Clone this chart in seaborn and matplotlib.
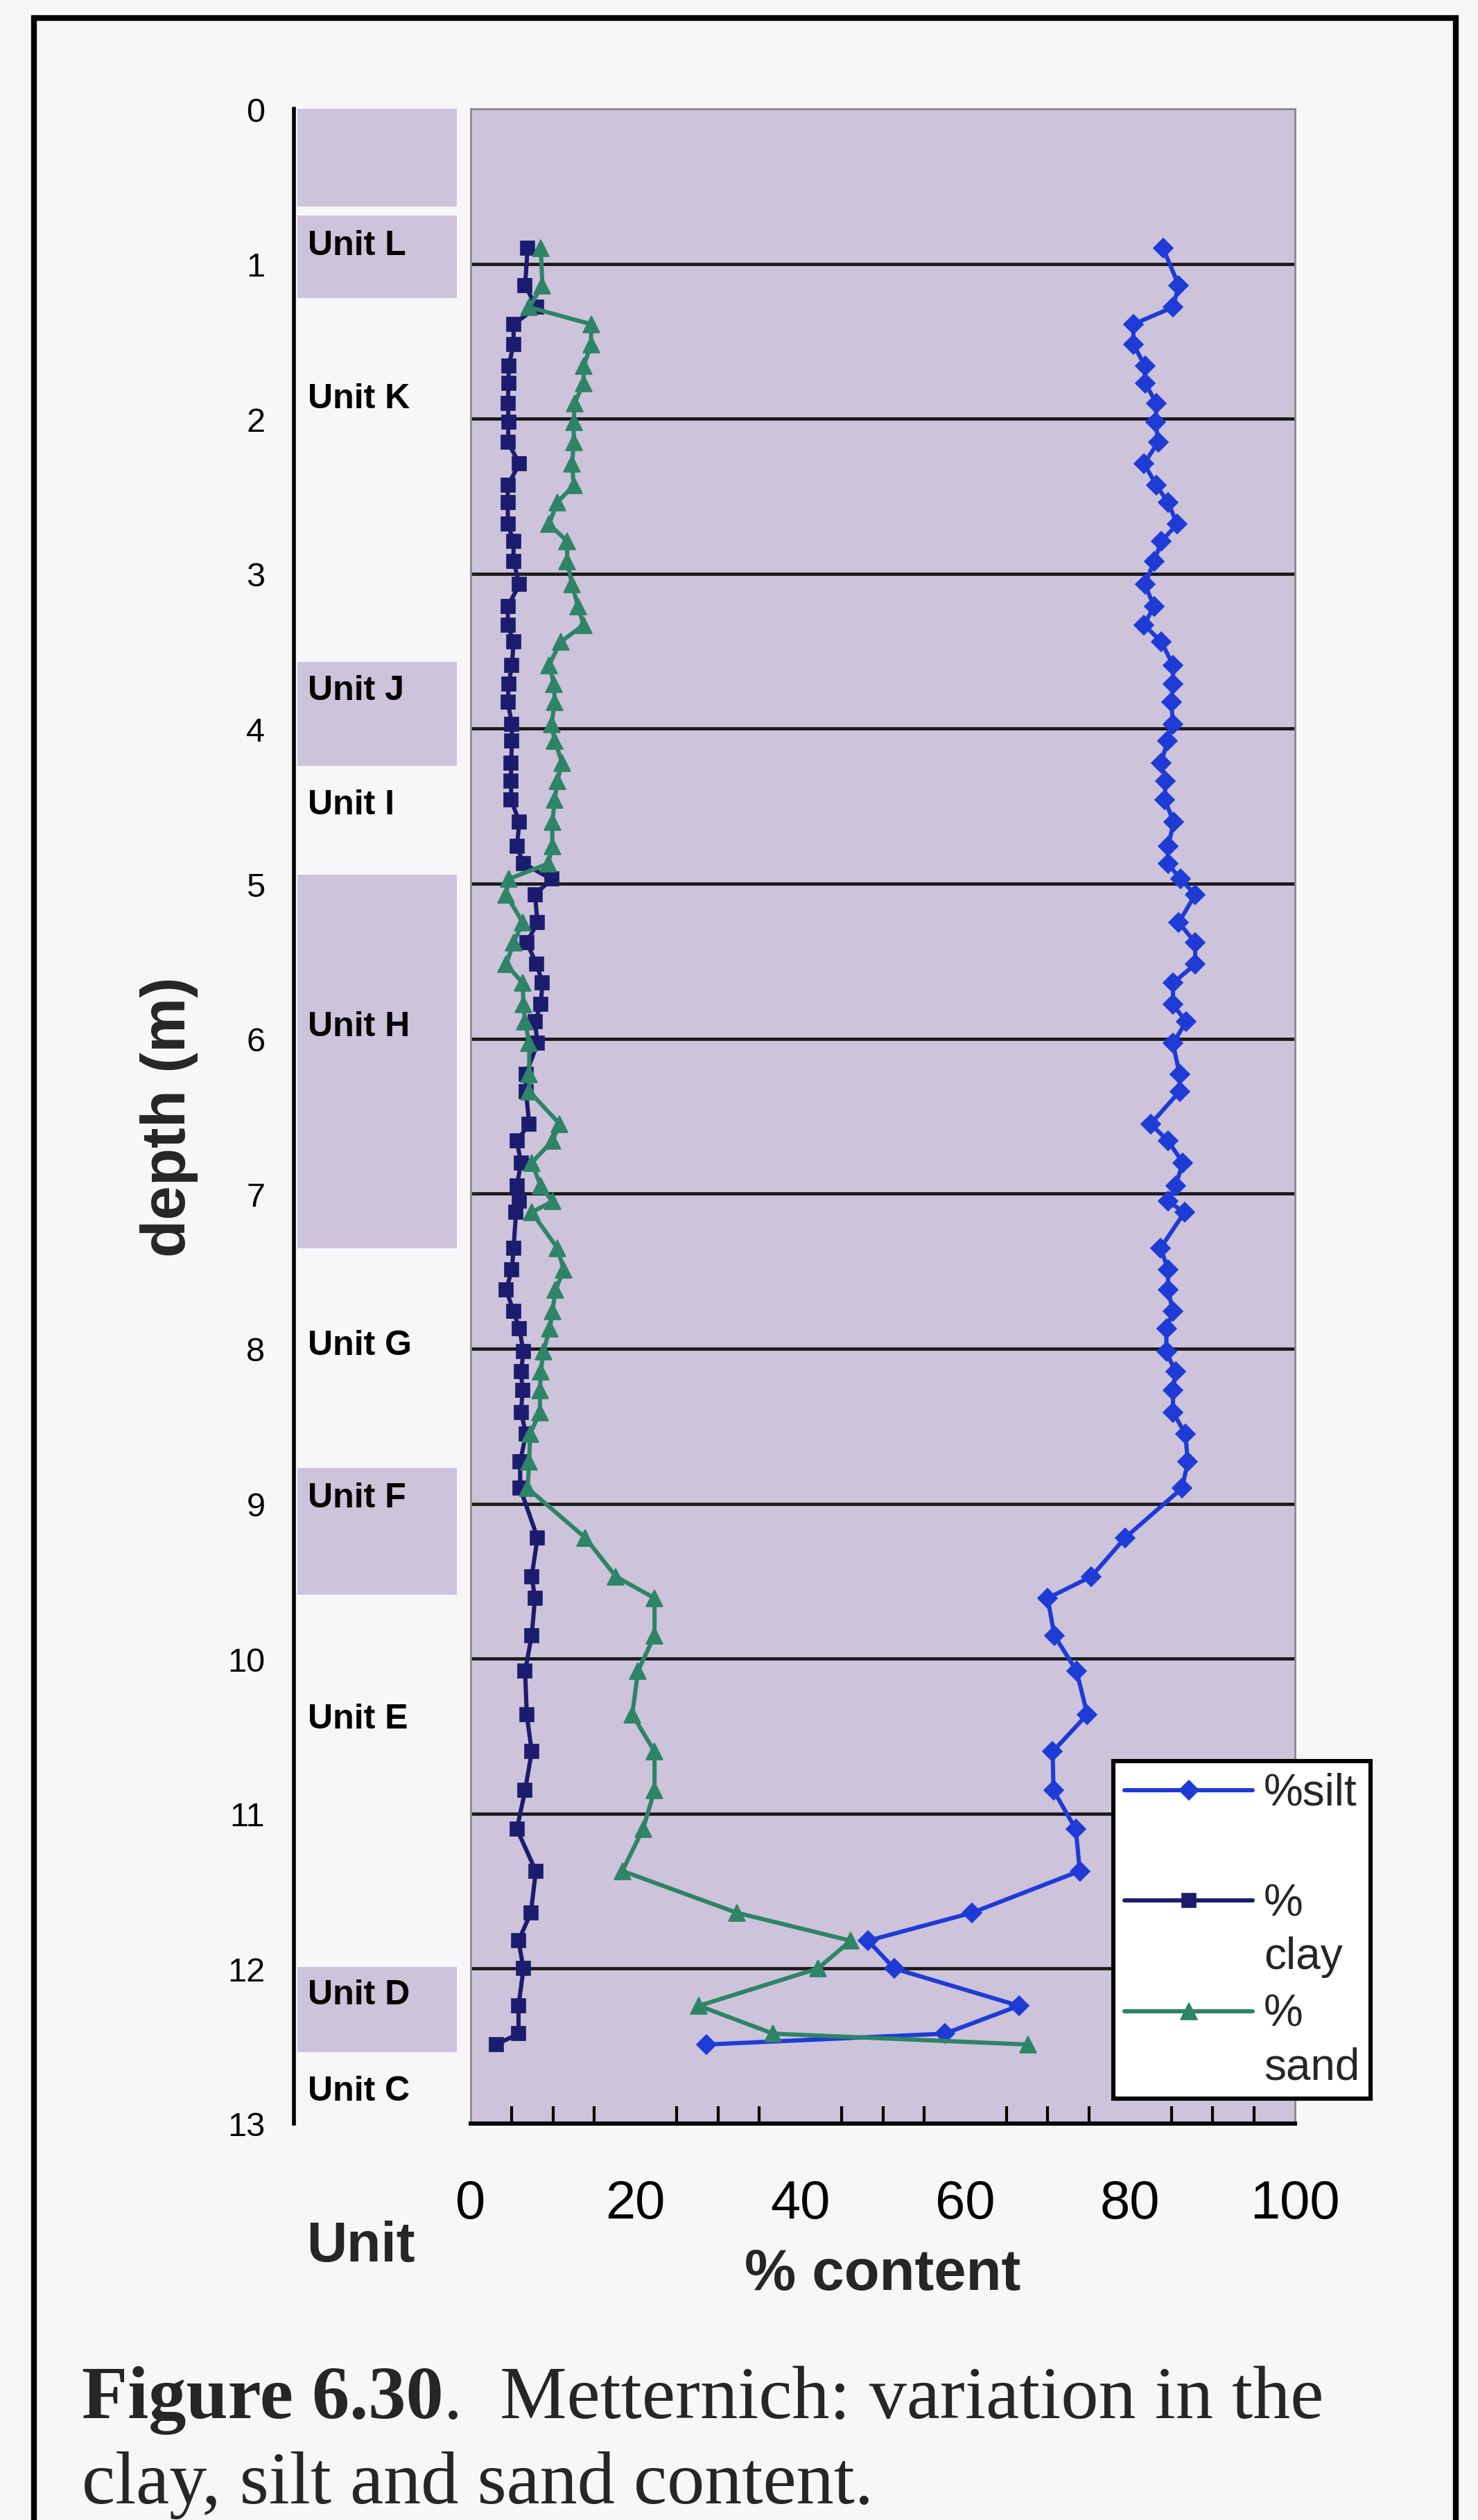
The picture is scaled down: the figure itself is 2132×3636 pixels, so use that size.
import numpy as np
import matplotlib
matplotlib.use("Agg")
import matplotlib.pyplot as plt
from matplotlib.patches import Rectangle
from matplotlib.lines import Line2D
from matplotlib.legend_handler import HandlerLine2D
from matplotlib.ticker import MultipleLocator
import seaborn as sns

# ---------------------------------------------------------------- data
depth_m = [0.90, 1.14, 1.28, 1.39, 1.52, 1.66, 1.77, 1.90, 2.02, 2.15,
           2.29, 2.43, 2.54, 2.68, 2.79, 2.92, 3.07, 3.21, 3.33, 3.44,
           3.59, 3.71, 3.83, 3.97, 4.08, 4.22, 4.34, 4.46,
           4.60, 4.76, 4.87, 4.97, 5.07, 5.25, 5.38, 5.52, 5.64, 5.78,
           5.89, 6.03, 6.23, 6.34, 6.55, 6.66, 6.80, 6.95, 7.05, 7.12,
           7.35, 7.49, 7.62, 7.76, 7.87, 8.02, 8.15, 8.27, 8.41, 8.55,
           8.73, 8.90,
           9.22, 9.47, 9.61, 9.85, 10.08, 10.36, 10.60, 10.85, 11.10, 11.37,
           11.64, 11.82, 12.00, 12.24, 12.42, 12.49]

silt_pct = [84.0, 85.9, 85.2, 80.4, 80.4, 81.8, 81.8, 83.2, 83.1, 83.4,
            81.7, 83.2, 84.6, 85.7, 83.8, 82.9, 81.8, 82.9, 81.7, 83.8,
            85.2, 85.2, 85.0, 85.2, 84.5, 83.8, 84.3, 84.2,
            85.3, 84.6, 84.6, 86.1, 87.9, 85.9, 87.9, 87.9, 85.2, 85.2,
            86.8, 85.2, 86.0, 86.0, 82.5, 84.6, 86.4, 85.5, 84.6, 86.6,
            83.7, 84.6, 84.6, 85.2, 84.4, 84.4, 85.5, 85.2, 85.2, 86.7,
            87.0, 86.3,
            79.4, 75.3, 70.0, 70.8, 73.5, 74.8, 70.6, 70.7, 73.4, 73.9,
            60.8, 48.2, 51.4, 66.5, 57.5, 28.6]

clay_pct = [6.9, 6.6, 8.0, 5.2, 5.2, 4.6, 4.6, 4.5, 4.6, 4.5,
            5.9, 4.5, 4.5, 4.5, 5.2, 5.2, 5.9, 4.5, 4.5, 5.2,
            5.0, 4.6, 4.5, 5.0, 5.0, 4.9, 4.9, 4.9,
            5.9, 5.6, 6.4, 9.8, 7.8, 8.1, 6.8, 8.0, 8.7, 8.5,
            7.8, 8.1, 6.7, 6.7, 7.1, 5.6, 6.1, 5.6, 5.9, 5.5,
            5.2, 5.0, 4.3, 5.2, 5.9, 6.4, 6.1, 6.3, 6.1, 6.7,
            6.0, 6.0,
            8.1, 7.4, 7.8, 7.4, 6.6, 6.8, 7.4, 6.6, 5.6, 7.9,
            7.3, 5.8, 6.4, 5.8, 5.8, 3.1]

sand_pct = [8.5, 8.7, 7.1, 14.6, 14.6, 13.7, 13.7, 12.6, 12.5, 12.5,
            12.3, 12.5, 10.5, 9.5, 11.7, 11.7, 12.3, 13.0, 13.7, 10.9,
            9.5, 10.1, 10.2, 9.8, 10.2, 11.1, 10.5, 10.2,
            9.9, 9.9, 9.4, 4.6, 4.3, 6.3, 5.2, 4.3, 6.3, 6.4,
            6.6, 7.1, 7.1, 7.1, 10.8, 9.9, 7.4, 8.5, 9.9, 7.4,
            10.5, 11.3, 10.3, 9.9, 9.6, 8.8, 8.5, 8.4, 8.4, 7.2,
            7.1, 6.9,
            13.9, 17.6, 22.3, 22.3, 20.3, 19.6, 22.3, 22.3, 20.9, 18.4,
            32.3, 46.1, 42.1, 27.7, 36.7, 67.6]

unit_names = ["Unit L", "Unit K", "Unit J", "Unit I", "Unit H",
              "Unit G", "Unit F", "Unit E", "Unit D", "Unit C"]
unit_label_depth = [0.88, 1.87, 3.75, 4.49, 5.92, 7.98, 8.96, 10.39, 12.17, 12.79]
shaded_top = [0.00, 0.69, 3.57, 4.94, 8.77, 11.99]
shaded_bottom = [0.63, 1.22, 4.24, 7.35, 9.59, 12.54]

depth_ticks = list(range(0, 14))
content_ticks = [0, 20, 40, 60, 80, 100]
legend_labels = ["%silt\n ", "%\nclay", "%\nsand"]

# ---------------------------------------------------------------- style
sns.set_style("white")
plt.rcParams["font.family"] = ["Liberation Sans", "DejaVu Sans"]

PAGE = "#F7F7FA"
PANEL = "#CDC3DA"
SILT_C = "#1F3BD6"
CLAY_C = "#1C1C6E"
SAND_C = "#2E8466"

W_PX, H_PX, DPI = 2132, 3637, 200
fig = plt.figure(figsize=(W_PX / DPI, H_PX / DPI), dpi=DPI)
fig.patch.set_facecolor(PAGE)


def fx(px):
    return px / W_PX


def fy(px):
    return 1 - px / H_PX


top_px, bot_px = 158, 3065
ax_u = fig.add_axes([fx(424), fy(bot_px), fx(679) - fx(424), fy(top_px) - fy(bot_px)])
ax = fig.add_axes([fx(679), fy(bot_px), fx(1868) - fx(679), fy(top_px) - fy(bot_px)])

# ---------------------------------------------------------------- unit column
ax_u.set_facecolor("none")
ax_u.set_xlim(0, 1)
ax_u.set_ylim(13, 0)
for t, b in zip(shaded_top, shaded_bottom):
    ax_u.axhspan(t, b, xmin=0.02, xmax=0.92, color=PANEL, lw=0, zorder=0)
for name, d in zip(unit_names, unit_label_depth):
    ax_u.text(0.08, d, name, ha="left", va="center", fontsize=18,
              fontweight="bold", color="black")
for side in ["top", "right", "bottom"]:
    ax_u.spines[side].set_visible(False)
ax_u.spines["left"].set_color("black")
ax_u.spines["left"].set_linewidth(2.0)
ax_u.set_xticks([])
ax_u.set_yticks(depth_ticks)
ax_u.tick_params(axis="y", direction="out", length=6, width=1.6, pad=9,
                 labelsize=17.5, colors="black")
ax_u.set_ylabel("depth (m)", fontsize=32, fontweight="bold")
ax_u.yaxis.set_label_coords(-0.54, 0.5)
ax_u.set_xlabel("Unit", fontsize=29, fontweight="bold", va="center")
ax_u.xaxis.set_label_coords(0.376, -0.061)

# ---------------------------------------------------------------- profiles
ax.set_facecolor(PANEL)
series = [
    (silt_pct, SILT_C, "D", 7.2),
    (clay_pct, CLAY_C, "s", 7.5),
    (sand_pct, SAND_C, "^", 8.5),
]
handles = []
for vals, col, mk, ms in series:
    sns.lineplot(x=vals, y=depth_m, ax=ax, sort=False, estimator=None,
                 color=col, linewidth=2.2, marker=mk, markersize=ms,
                 markeredgecolor=col, markeredgewidth=0.6, zorder=3)
    handles.append(ax.lines[-1])

ax.set_xlim(0, 100)
ax.set_ylim(13, 0)
ax.set_yticks(list(range(1, 13)))
ax.tick_params(axis="y", length=0, labelleft=False)
ax.yaxis.grid(True, color="#1a1a1a", linewidth=1.7)
ax.xaxis.grid(False)
ax.set_axisbelow(True)

ax.set_xticks(content_ticks)
ax.xaxis.set_minor_locator(MultipleLocator(5))
ax.tick_params(axis="x", which="major", direction="inout", length=20, width=1.8,
               pad=18.5, labelsize=28, colors="black")
ax.tick_params(axis="x", which="minor", direction="in", length=9, width=1.5,
               colors="black", bottom=True)
for side in ["left", "top", "right"]:
    ax.spines[side].set_color("#8a8a8a")
    ax.spines[side].set_linewidth(1.0)
ax.spines["bottom"].set_color("black")
ax.spines["bottom"].set_linewidth(2.2)
ax.set_ylabel("")
ax.set_xlabel("% content", fontsize=30, fontweight="bold", va="center")
ax.xaxis.set_label_coords(0.5, -0.0745)


# ---------------------------------------------------------------- legend
LEG_SPACING = 1.36


class FirstLineHandler(HandlerLine2D):
    """Places the legend sample level with the first line of a wrapped label."""

    def __init__(self, lift=0.0, **kw):
        super().__init__(**kw)
        self.lift = lift

    def create_artists(self, legend, orig_handle, xdescent, ydescent,
                       width, height, fontsize, trans):
        arts = super().create_artists(legend, orig_handle, xdescent, ydescent,
                                      width, height, fontsize, trans)
        for a in arts:
            a.set_ydata(np.asarray(a.get_ydata()) + self.lift * fontsize)
        return arts


leg = ax.legend(handles, legend_labels, loc="upper left",
                bbox_to_anchor=(fx(1606), fy(2542)), bbox_transform=fig.transFigure,
                handler_map={Line2D: FirstLineHandler(lift=LEG_SPACING * 0.5)},
                fontsize=23, frameon=True, fancybox=False, framealpha=1,
                facecolor="white", edgecolor="black", borderpad=0.25,
                handlelength=2.9, handletextpad=0.25, labelspacing=0.35,
                borderaxespad=0)
for t in leg.get_texts():
    t.set_linespacing(LEG_SPACING)
leg.get_frame().set_linewidth(2.2)
leg.set_zorder(10)

# ---------------------------------------------------------------- frame & caption
fig.add_artist(Rectangle((fx(49), -0.1), fx(2100) - fx(49), fy(27) + 0.1,
                         transform=fig.transFigure, fill=False, ec="black",
                         lw=3.0, clip_on=False))

cap_font = ["Liberation Serif", "DejaVu Serif"]
t1 = fig.text(fx(118), fy(3489), "Figure 6.30", fontsize=39, fontweight="bold",
              family=cap_font, va="baseline", ha="left")
fig.canvas.draw()
bb = t1.get_window_extent(renderer=fig.canvas.get_renderer())
fig.text(bb.x1 / W_PX, fy(3489), ".  Metternich: variation in the", fontsize=39,
         family=cap_font, va="baseline", ha="left")
fig.text(fx(118), fy(3612), "clay, silt and sand content.", fontsize=39,
         family=cap_font, va="baseline", ha="left")

fig.savefig("out.png", dpi=DPI, facecolor=PAGE)
